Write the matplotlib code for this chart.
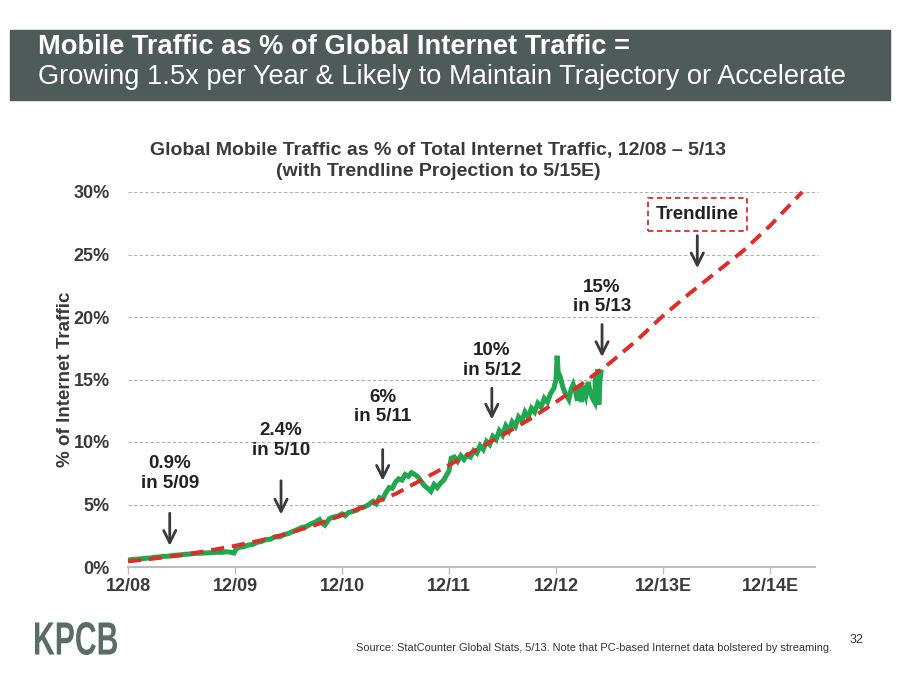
import matplotlib
matplotlib.use("Agg")
import matplotlib.pyplot as plt
from matplotlib.patches import Rectangle, PathPatch
from matplotlib.textpath import TextPath
from matplotlib.font_manager import FontProperties
from matplotlib.transforms import Affine2D

plt.rcParams['font.family'] = ['Liberation Sans', 'DejaVu Sans']

# years since 12/08 and mobile share of traffic (%)
green_t = [0.00, 0.04, 0.08, 0.12, 0.17, 0.21, 0.25, 0.29, 0.33, 0.37,
           0.42, 0.46, 0.50, 0.54, 0.58, 0.62, 0.67, 0.71, 0.75, 0.79,
           0.83, 0.87, 0.92, 0.96, 0.99, 1.01, 1.04, 1.08, 1.12, 1.17,
           1.21, 1.25, 1.29, 1.33, 1.37, 1.42, 1.46, 1.50, 1.54, 1.58,
           1.62, 1.67, 1.71, 1.75, 1.79, 1.81, 1.84, 1.88, 1.92, 1.96,
           2.00, 2.03, 2.06, 2.10, 2.14, 2.17, 2.21, 2.25, 2.29, 2.32,
           2.35, 2.38, 2.41, 2.44, 2.47, 2.50, 2.53, 2.56, 2.59, 2.62,
           2.65, 2.68, 2.71, 2.74, 2.77, 2.80, 2.83, 2.86, 2.89, 2.92,
           2.95, 2.98, 3.00, 3.02, 3.05, 3.08, 3.11, 3.14, 3.17, 3.20,
           3.23, 3.26, 3.29, 3.32, 3.35, 3.38, 3.41, 3.44, 3.47, 3.50,
           3.53, 3.56, 3.59, 3.62, 3.65, 3.68, 3.71, 3.74, 3.77, 3.80,
           3.83, 3.86, 3.89, 3.92, 3.95, 3.98, 4.00, 4.01, 4.02, 4.04,
           4.06, 4.08, 4.10, 4.12, 4.14, 4.16, 4.18, 4.20, 4.22, 4.24,
           4.26, 4.28, 4.30, 4.32, 4.34, 4.36, 4.37, 4.38, 4.39, 4.40,
           4.41, 4.42]
green_v = [0.55, 0.60, 0.62, 0.66, 0.70, 0.72, 0.78, 0.80, 0.85, 0.86,
           0.92, 0.95, 0.98, 1.02, 1.04, 1.08, 1.10, 1.12, 1.14, 1.15,
           1.18, 1.17, 1.22, 1.18, 1.12, 1.45, 1.58, 1.62, 1.75, 1.82,
           1.98, 2.05, 2.20, 2.22, 2.40, 2.42, 2.60, 2.68, 2.85, 2.98,
           3.15, 3.25, 3.45, 3.60, 3.80, 3.55, 3.35, 3.85, 4.00, 4.05,
           4.25, 4.10, 4.35, 4.45, 4.55, 4.75, 4.80, 5.00, 5.25, 5.05,
           5.55, 5.45, 5.95, 6.35, 6.30, 6.80, 7.05, 6.95, 7.40, 7.25,
           7.55, 7.40, 7.20, 6.85, 6.50, 6.30, 6.05, 6.60, 6.35, 6.70,
           6.95, 7.40, 7.70, 8.70, 8.80, 8.45, 8.90, 8.60, 8.95, 8.80,
           9.30, 9.10, 9.70, 9.40, 10.05, 9.80, 10.45, 10.20, 10.90, 10.55,
           11.30, 10.90, 11.60, 11.25, 12.00, 11.70, 12.40, 12.00, 12.70, 12.40,
           13.10, 12.80, 13.50, 13.20, 13.90, 14.30, 15.00, 16.90, 15.60, 15.20,
           14.50, 14.00, 13.70, 13.40, 14.20, 14.60, 14.10, 13.30, 14.40, 13.20,
           14.50, 13.80, 14.80, 14.00, 13.50, 13.20, 15.50, 14.20, 15.80, 13.00,
           14.80, 15.60]

trend_t = [0.00, 0.25, 0.50, 0.75, 1.00, 1.25, 1.50, 1.75, 2.00, 2.25,
           2.50, 2.75, 3.00, 3.25, 3.50, 3.75, 4.00, 4.25, 4.50, 4.75,
           5.00, 5.25, 5.50, 5.75, 6.00, 6.30]
trend_v = [0.45, 0.68, 0.95, 1.30, 1.70, 2.15, 2.70, 3.35, 4.15, 4.95,
           5.85, 7.00, 8.15, 9.35, 10.55, 11.80, 13.20, 14.70, 16.30, 18.10,
           20.10, 21.90, 23.60, 25.30, 27.30, 30.00]

x_ticks = [0, 1, 2, 3, 4, 5, 6]
x_labels = ['12/08', '12/09', '12/10', '12/11', '12/12', '12/13E', '12/14E']
y_ticks = [0, 5, 10, 15, 20, 25, 30]

# callouts: x (years), label, arrow tip %, arrow tail %, label centre %
callouts = [(0.39, '0.9%\nin 5/09', 1.7, 4.3, 7.5),
            (1.43, '2.4%\nin 5/10', 4.2, 6.9, 10.1),
            (2.38, '6%\nin 5/11', 6.9, 9.4, 12.8),
            (3.40, '10%\nin 5/12', 11.8, 14.3, 16.5),
            (4.43, '15%\nin 5/13', 16.8, 19.4, 21.6)]

W, H = 900, 696
fig = plt.figure(figsize=(W / 100, H / 100), dpi=100)
fig.patch.set_facecolor('white')

def fx(px):
    return px / W

def fy(py):
    return 1 - py / H

# header band
fig.add_artist(Rectangle((fx(10), fy(100)), fx(880), 70 / H, transform=fig.transFigure,
                         color='#4f5b58', zorder=0))
fig.text(fx(38), fy(47), 'Mobile Traffic as % of Global Internet Traffic =', color='white',
         fontsize=19.6, fontweight='bold', va='center', ha='left')
fig.text(fx(38), fy(77), 'Growing 1.5x per Year & Likely to Maintain Trajectory or Accelerate',
         color='white', fontsize=19.6, va='center', ha='left')

# chart title
fig.text(fx(438), fy(150), 'Global Mobile Traffic as % of Total Internet Traffic, 12/08 \u2013 5/13',
         color='#3a3a3a', fontsize=14, fontweight='bold', ha='center', va='center')
fig.text(fx(438), fy(172), '(with Trendline Projection to 5/15E)',
         color='#3a3a3a', fontsize=14, fontweight='bold', ha='center', va='center')

ax = fig.add_axes([fx(128), 1 - 567 / H, (815 - 128) / W, (567 - 192) / H])
ax.set_xlim(0, 6.42)
ax.set_ylim(0, 30)

ax.plot(green_t, green_v, color='#1fa84f', lw=3.6, solid_joinstyle='miter', zorder=3)
ax.plot(trend_t, trend_v, color='#e02b27', lw=2.8, dashes=(3.4, 2.0), zorder=4, clip_on=False)

ax.set_xticks(x_ticks)
ax.set_xticklabels(x_labels, fontsize=13, fontweight='bold', color='#3a3a3a')
ax.set_yticks(y_ticks)
ax.set_yticklabels([f'{v}%' for v in y_ticks], fontsize=13, fontweight='bold', color='#3a3a3a')
ax.tick_params(axis='x', length=5, width=1, color='#bdbdbd', pad=3)
ax.tick_params(axis='y', length=0, pad=13)
for s in ['top', 'right', 'left']:
    ax.spines[s].set_visible(False)
ax.spines['bottom'].set_color('#bdbdbd')
ax.spines['bottom'].set_linewidth(1.5)
for v in y_ticks[1:]:
    ax.axhline(v, color='#b0b0b0', lw=0.8, ls=(0, (3, 2)), zorder=1, xmax=1.005, clip_on=False)
ax.set_ylabel('% of Internet Traffic', fontsize=13.5, fontweight='bold', color='#3a3a3a', labelpad=0)

arrow_kw = dict(arrowstyle='->', color='#3a3a3a', lw=2, mutation_scale=22, shrinkA=0, shrinkB=0)
for x, label, tip, tail, ty in callouts:
    ax.annotate('', xy=(x, tip), xytext=(x, tail), arrowprops=arrow_kw, zorder=5)
    ax.text(x, ty, label, ha='center', va='center', fontsize=13.5, fontweight='bold',
            color='#222222', linespacing=1.2)

# trendline label
ax.annotate('', xy=(5.32, 23.9), xytext=(5.32, 26.5), arrowprops=arrow_kw, zorder=5)
ax.text(5.32, 28.2, 'Trendline', ha='center', va='center', fontsize=13.5, fontweight='bold',
        color='#222222',
        bbox=dict(boxstyle='square,pad=0.42', fc='white', ec='#e02b27', lw=1.3, ls=(0, (3, 2))))

# footer
fig.text(fx(356), fy(648), 'Source: StatCounter Global Stats, 5/13. Note that PC-based Internet data bolstered by streaming.',
         fontsize=7.95, color='#333333', ha='left', va='center')
fig.text(fx(856), fy(640), '32', fontsize=9, color='#333333', ha='center', va='center')

tp = TextPath((0, 0), 'KPCB', size=1, prop=FontProperties(family='Liberation Sans', weight='bold'))
ext = tp.get_extents()
sx = 82 / ext.width
sy = 33 / ext.height
tr = Affine2D().translate(-ext.x0, -ext.y0).scale(sx / W, sy / H).translate(fx(35), fy(655))
fig.add_artist(PathPatch(tp, transform=tr + fig.transFigure, color='#5b6b67', lw=0))

fig.savefig('out.png', dpi=100)
